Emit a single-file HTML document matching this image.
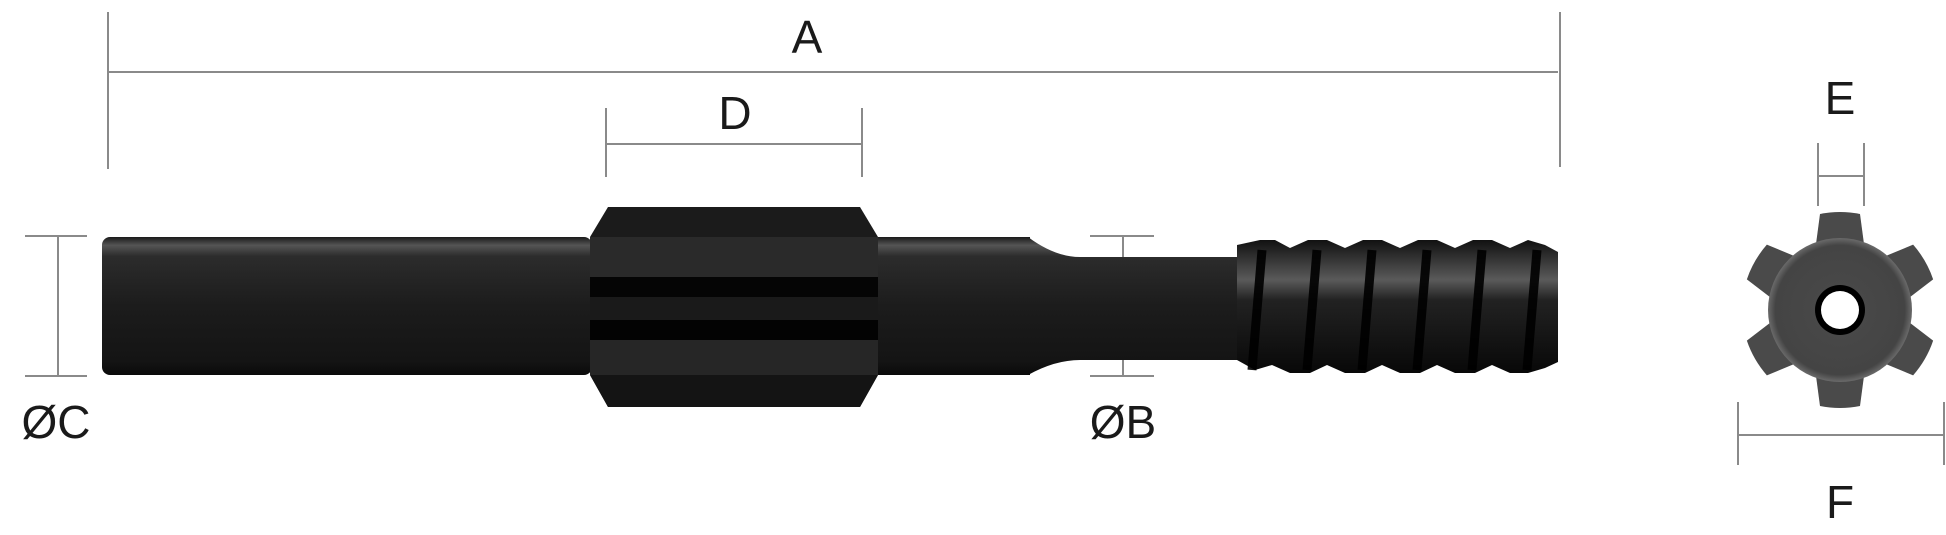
<!DOCTYPE html>
<html><head><meta charset="utf-8"><style>
html,body{margin:0;padding:0;background:#fff;}
svg{display:block;}
text{font-family:"Liberation Sans",sans-serif;fill:#1a1a1a;}
</style></head><body>
<svg width="1946" height="535" viewBox="0 0 1946 535" xmlns="http://www.w3.org/2000/svg">
<defs>
<linearGradient id="cyl" x1="0" y1="0" x2="0" y2="1">
<stop offset="0" stop-color="#1a1a1a"/><stop offset="0.06" stop-color="#555"/><stop offset="0.14" stop-color="#2c2c2c"/><stop offset="0.5" stop-color="#1c1c1c"/><stop offset="0.9" stop-color="#141414"/><stop offset="1" stop-color="#0a0a0a"/>
</linearGradient>
<linearGradient id="thr" x1="0" y1="0" x2="0" y2="1">
<stop offset="0" stop-color="#111"/><stop offset="0.3" stop-color="#5a5a5a"/><stop offset="0.45" stop-color="#222"/><stop offset="1" stop-color="#080808"/>
</linearGradient>
<radialGradient id="hub" cx="0.5" cy="0.5" r="0.5">
<stop offset="0" stop-color="#4a4a4a"/><stop offset="0.9" stop-color="#444"/><stop offset="1" stop-color="#6a6a6a"/>
</radialGradient>
<clipPath id="col"><path d="M608 207 L860 207 L878 237 L878 375 L860 407 L608 407 L590 375 L590 237 Z"/></clipPath>
</defs>
<g stroke="#8a8a8a" stroke-width="2" fill="none">
<line x1="108" y1="12" x2="108" y2="169"/><line x1="1560" y1="12" x2="1560" y2="167"/><line x1="108" y1="72" x2="1558" y2="72"/>
<line x1="606" y1="108" x2="606" y2="177"/><line x1="862" y1="108" x2="862" y2="177"/><line x1="606" y1="144" x2="862" y2="144"/>
<line x1="25" y1="236" x2="87" y2="236"/><line x1="25" y1="376" x2="87" y2="376"/><line x1="58" y1="236" x2="58" y2="376"/>
<line x1="1090" y1="236" x2="1154" y2="236"/><line x1="1090" y1="376" x2="1154" y2="376"/><line x1="1123" y1="236" x2="1123" y2="376"/>
<line x1="1818" y1="143" x2="1818" y2="206"/><line x1="1864" y1="143" x2="1864" y2="206"/><line x1="1818" y1="176" x2="1864" y2="176"/>
<line x1="1738" y1="402" x2="1738" y2="465"/><line x1="1944" y1="402" x2="1944" y2="465"/><line x1="1738" y1="435" x2="1944" y2="435"/>
</g>
<g font-size="46" text-anchor="middle">
<text x="807" y="53">A</text><text x="735" y="129">D</text>
<text x="56" y="438">ØC</text><text x="1123" y="438">ØB</text>
<text x="1840" y="114">E</text><text x="1840" y="518">F</text>
</g>
<rect x="102" y="237" width="490" height="138" rx="8" fill="url(#cyl)"/>
<rect x="870" y="237" width="160" height="138" fill="url(#cyl)"/>
<path d="M1028 237 Q1055 257 1080 257 L1240 257 L1240 360 L1080 360 Q1055 360 1028 375 Z" fill="url(#cyl)"/>
<g clip-path="url(#col)">
<rect x="580" y="200" width="310" height="215" fill="#1b1b1b"/>
<rect x="580" y="237" width="310" height="40" fill="#2a2a2a"/>
<rect x="580" y="277" width="310" height="20" fill="#050505"/>
<rect x="580" y="297" width="310" height="23" fill="#1a1a1a"/>
<rect x="580" y="320" width="310" height="20" fill="#030303"/>
<rect x="580" y="340" width="310" height="35" fill="#262626"/>
<rect x="580" y="375" width="310" height="40" fill="#141414"/>
</g>
<path d="M1237 245 L1260 240 L1275 240 L1290 248 L1308 240 L1327 240 L1345 248 L1363 240 L1382 240 L1400 248 L1418 240 L1437 240 L1455 248 L1473 240 L1492 240 L1510 248 L1528 240 L1545 245 L1558 252 L1558 362 L1545 368 L1528 373 L1510 373 L1492 365 L1475 373 L1455 373 L1437 365 L1420 373 L1400 373 L1382 365 L1365 373 L1345 373 L1327 365 L1310 373 L1290 373 L1272 365 L1255 370 L1237 360 Z" fill="url(#thr)"/>
<g stroke="#000" stroke-width="9" opacity="0.9">
<line x1="1262" y1="250" x2="1252" y2="370"/><line x1="1317" y1="250" x2="1307" y2="370"/><line x1="1372" y1="250" x2="1362" y2="370"/><line x1="1427" y1="250" x2="1417" y2="370"/><line x1="1482" y1="250" x2="1472" y2="370"/><line x1="1537" y1="250" x2="1527" y2="370"/>
</g>
<g transform="translate(1840,310)" fill="#4a4a4a">
<g id="t"><path d="M-24 -66 L-20 -96 Q0 -100 20 -96 L24 -66 Z"/></g>
<use href="#t" transform="rotate(60)"/><use href="#t" transform="rotate(120)"/><use href="#t" transform="rotate(180)"/><use href="#t" transform="rotate(240)"/><use href="#t" transform="rotate(300)"/>
<circle r="72" fill="url(#hub)"/>
<circle r="25" fill="#000"/><circle r="19" fill="#fff"/>
</g>
</svg>
</body></html>
